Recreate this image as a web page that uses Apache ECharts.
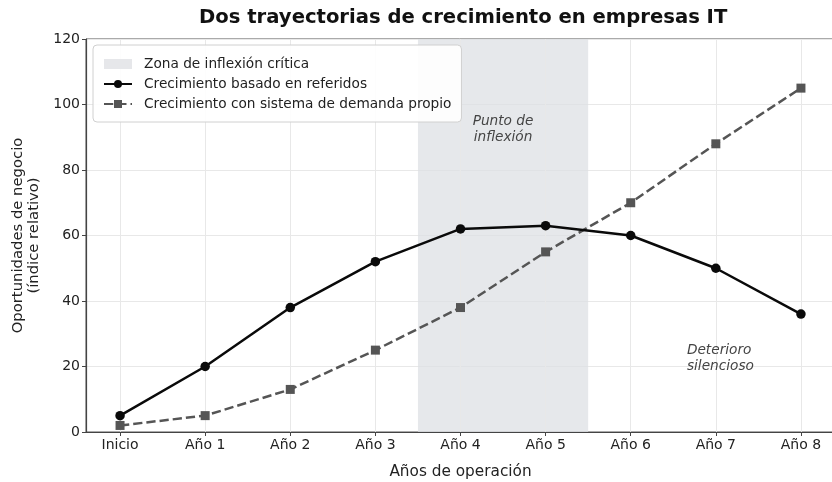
<!DOCTYPE html>
<html>
<head>
<meta charset="utf-8">
<script src="https://cdn.jsdelivr.net/npm/echarts@6/dist/echarts.min.js"></script>
<style>html,body{margin:0;padding:0;background:#fff}#c{width:832px;height:482px}</style>
</head>
<body>
<div id="c"></div>
<script>
const categories = ['Inicio', 'Año 1', 'Año 2', 'Año 3', 'Año 4', 'Año 5', 'Año 6', 'Año 7', 'Año 8'];
const referidos = [5, 20, 38, 52, 62, 63, 60, 50, 36];
const demandaPropia = [2, 5, 13, 25, 38, 55, 70, 88, 105];
const yTicks = [0, 20, 40, 60, 80, 100, 120];
const zonaInflexion = [3.5, 5.5];
const seriesNames = ['Zona de inflexión crítica', 'Crecimiento basado en referidos', 'Crecimiento con sistema de demanda propio'];

const FONT = 'DejaVu Sans';
const xIdx = categories.map((_, i) => i);
const toPairs = arr => arr.map((v, i) => [i, v]);

const chart = echarts.init(document.getElementById('c'), null, {renderer: 'canvas'});
chart.setOption({
  animation: false,
  backgroundColor: '#fff',
  textStyle: {fontFamily: FONT},
  title: {
    text: 'Dos trayectorias de crecimiento en empresas IT',
    left: 194, top: 3,
    textStyle: {fontFamily: FONT, fontSize: 19.6, fontWeight: 'bold', color: '#111'}
  },
  grid: {left: 86, top: 39, right: -3, bottom: 50, containLabel: false, outerBoundsMode: 'none',
         show: true, borderColor: '#555', borderWidth: 1, backgroundColor: 'transparent'},
  legend: {
    orient: 'vertical', left: 93, top: 45,
    padding: [12, 10, 11, 10], itemGap: 6,
    itemWidth: 28, itemHeight: 10,
    backgroundColor: 'rgba(255,255,255,0.9)', borderColor: '#d0d0d0', borderWidth: 1, borderRadius: 4,
    textStyle: {fontFamily: FONT, fontSize: 13.7, color: '#222', padding: [0, 0, 0, 7]},
    data: [
      {name: seriesNames[0], icon: 'rect', itemStyle: {color: '#e6e7ea'}},
      {name: seriesNames[1]},
      {name: seriesNames[2]}
    ]
  },
  xAxis: {
    type: 'value', min: -0.4, max: 8.4,
    name: 'Años de operación', nameLocation: 'middle', nameGap: 33,
    nameTextStyle: {fontFamily: FONT, fontSize: 15.3, color: '#222'},
    axisLine: {show: true, onZero: false, lineStyle: {color: '#444', width: 1.2}},
    axisTick: {show: true, length: 4, customValues: xIdx, lineStyle: {color: '#444'}},
    axisLabel: {customValues: xIdx, formatter: v => categories[Math.round(v)], fontFamily: FONT, fontSize: 14, color: '#222', margin: 6},
    splitLine: {show: false}
  },
  yAxis: {
    type: 'value', min: 0, max: 120, interval: 20,
    name: 'Oportunidades de negocio\n(índice relativo)', nameLocation: 'middle', nameGap: 44, nameRotate: 90,
    nameTextStyle: {fontFamily: FONT, fontSize: 14.8, color: '#222', lineHeight: 16},
    axisLine: {show: true, onZero: false, lineStyle: {color: '#444', width: 1.2}},
    axisTick: {show: true, length: 4, lineStyle: {color: '#444'}},
    axisLabel: {fontFamily: FONT, fontSize: 14, color: '#222', margin: 6, formatter: v => yTicks.includes(v) ? String(v) : ''},
    splitLine: {show: true, lineStyle: {color: '#e8e8e8', width: 1}}
  },
  series: [
    {
      name: seriesNames[0], type: 'line', data: [], z: 1,
      itemStyle: {color: '#e6e7ea'},
      markLine: {
        z: 2, silent: true, symbol: 'none', label: {show: false},
        lineStyle: {color: '#e8e8e8', width: 1, type: 'solid'},
        data: xIdx.map(i => ({xAxis: i}))
      },
      markArea: {
        z: 1, silent: true,
        itemStyle: {color: 'rgba(222,224,228,0.75)'},
        data: [[{xAxis: zonaInflexion[0]}, {xAxis: zonaInflexion[1]}]]
      },
      markPoint: {
        z: 6, silent: true,
        symbol: 'circle', symbolSize: 0,
        label: {show: true, fontFamily: FONT, fontSize: 13.7, fontStyle: 'italic', color: '#444', lineHeight: 16},
        data: [
          {coord: [4.5, 92.3], label: {formatter: 'Punto de\ninflexión', align: 'center'}},
          {coord: [6.66, 22.5], label: {formatter: 'Deterioro\nsilencioso', align: 'left'}}
        ]
      }
    },
    {
      name: seriesNames[1], type: 'line', data: toPairs(referidos), z: 5,
      symbol: 'circle', symbolSize: 9.5,
      lineStyle: {color: '#0a0a0a', width: 2.5},
      itemStyle: {color: '#0a0a0a', borderWidth: 0}
    },
    {
      name: seriesNames[2], type: 'line', data: toPairs(demandaPropia), z: 4,
      symbol: 'rect', symbolSize: 9,
      lineStyle: {color: '#555', width: 2.5, type: [9.25, 4]},
      itemStyle: {color: '#555', borderWidth: 0}
    }
  ]
});
</script>
</body>
</html>
